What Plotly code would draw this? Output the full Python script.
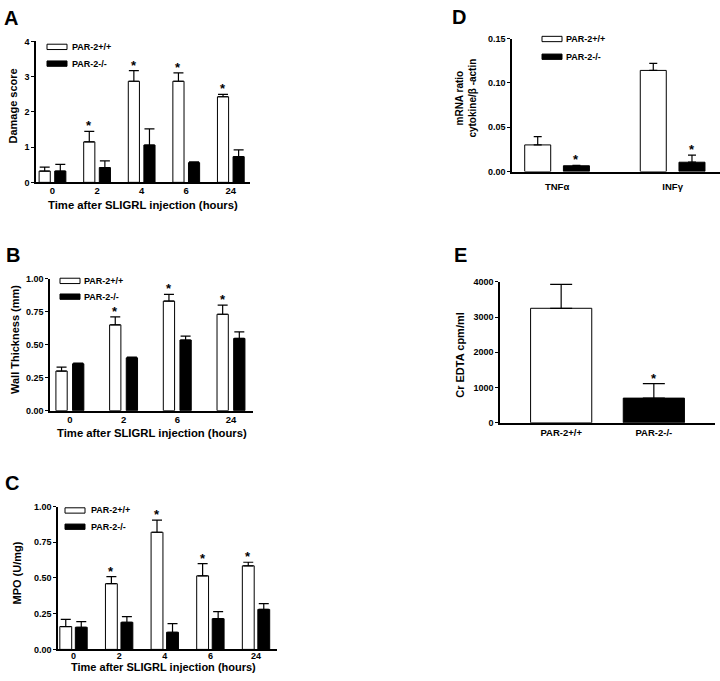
import plotly.graph_objects as go

W, H = 720, 681
FONT = "Liberation Sans, Arial, sans-serif"

# ---------------- data ----------------
a_cats = ["0", "2", "4", "6", "24"]
a_wt = [0.32, 1.15, 2.87, 2.87, 2.43]
a_wt_err = [0.11, 0.30, 0.30, 0.24, 0.07]
a_ko = [0.32, 0.42, 1.06, 0.56, 0.73]
a_ko_err = [0.19, 0.19, 0.46, 0.02, 0.19]
a_sig_wt = [False, True, True, True, True]

b_cats = ["0", "2", "6", "24"]
b_wt = [0.30, 0.65, 0.83, 0.73]
b_wt_err = [0.03, 0.06, 0.05, 0.07]
b_ko = [0.355, 0.40, 0.535, 0.547]
b_ko_err = [0.005, 0.005, 0.03, 0.05]
b_sig_wt = [False, True, True, True]

c_cats = ["0", "2", "4", "6", "24"]
c_wt = [0.16, 0.46, 0.82, 0.515, 0.585]
c_wt_err = [0.05, 0.05, 0.085, 0.085, 0.025]
c_ko = [0.155, 0.19, 0.12, 0.215, 0.28]
c_ko_err = [0.04, 0.04, 0.06, 0.05, 0.04]
c_sig_wt = [False, True, True, True, True]

d_cats = ["TNFα", "INFγ"]
d_wt = [0.030, 0.114]
d_wt_err = [0.0094, 0.008]
d_ko = [0.0065, 0.0105]
d_ko_err = [0.0005, 0.008]
d_sig_ko = [True, True]

e_cats = ["PAR-2+/+", "PAR-2-/-"]
e_vals = [3250, 700]
e_err = [680, 410]
e_sig = [False, True]

legend_labels = ["PAR-2+/+", "PAR-2-/-"]

# ---------------- figure ----------------
fig = go.Figure()
annotations = []
shapes = []


def px_x(p):
    return p / W


def px_y(p):
    return 1 - p / H


def setup_axes(n, xdom, ydom, xrange, yrange, tickvals, tickfmt, standoff, xtsize=9.5):
    xa = "xaxis" if n == 1 else f"xaxis{n}"
    ya = "yaxis" if n == 1 else f"yaxis{n}"
    yid = "y" if n == 1 else f"y{n}"
    xid = "x" if n == 1 else f"x{n}"
    fig.layout[xa] = dict(
        domain=[px_x(xdom[0]), px_x(xdom[1])], anchor=yid, type="category",
        range=xrange, showline=True, linecolor="black", linewidth=1.5,
        ticks="", ticklen=0, showgrid=False, zeroline=False,
        tickfont=dict(family=FONT, size=xtsize, color="black", weight="bold"),
        ticklabelstandoff=standoff, fixedrange=True,
    )
    fig.layout[ya] = dict(
        domain=[px_y(ydom[1]), px_y(ydom[0])], anchor=xid,
        range=yrange, showline=True, linecolor="black", linewidth=1.5,
        ticks="outside", ticklen=3, tickwidth=1.2, tickcolor="black",
        tickvals=tickvals, tickformat=tickfmt, showgrid=False, zeroline=False,
        tickfont=dict(family=FONT, size=9, color="black", weight="bold"),
        fixedrange=True,
    )
    return xid, yid


def star(xid, yid, idx, yval, xshift):
    annotations.append(dict(
        xref=xid, yref=yid, x=idx, y=yval, text="*", showarrow=False,
        yanchor="bottom", xshift=xshift, yshift=-4,
        font=dict(family=FONT, size=13, color="black", weight="bold"),
    ))


def grouped_panel(n, cats, wt, wt_err, ko, ko_err, sig_wt, sig_ko,
                  xdom, ydom, xrange, yrange, tickvals, tickfmt,
                  bw, gap, capw, standoff, xtsize=9.5):
    xid, yid = setup_axes(n, xdom, ydom, xrange, yrange, tickvals, tickfmt,
                          standoff, xtsize)
    ppc = (xdom[1] - xdom[0]) / (xrange[1] - xrange[0])
    specs = [
        (wt, wt_err, "white", -gap / 2 - bw, sig_wt),
        (ko, ko_err, "black", gap / 2, sig_ko),
    ]
    for vals, errs, col, off, sig in specs:
        fig.add_trace(go.Bar(
            x=cats, y=vals, xaxis=xid, yaxis=yid, width=bw, offset=off,
            marker=dict(color=col, line=dict(color="black", width=1)),
            error_y=dict(type="data", symmetric=False, array=errs,
                         arrayminus=[0] * len(errs), color="black",
                         thickness=1.2, width=capw),
            showlegend=False,
        ))
        if sig:
            for i, (v, e, s) in enumerate(zip(vals, errs, sig)):
                if s:
                    star(xid, yid, i, v + e, (off + bw / 2) * ppc)


def legend_block(x0, y_white, y_black, text_x, size=9):
    for (yc, col), lab in zip([(y_white, "white"), (y_black, "black")], legend_labels):
        shapes.append(dict(
            type="rect", xref="paper", yref="paper",
            x0=px_x(x0), x1=px_x(x0 + 20), y0=px_y(yc + 2.7), y1=px_y(yc - 2.7),
            fillcolor=col, line=dict(color="black", width=1),
        ))
        annotations.append(dict(
            xref="paper", yref="paper", x=px_x(text_x), y=px_y(yc), text=lab,
            showarrow=False, xanchor="left", yanchor="middle",
            font=dict(family=FONT, size=size, color="black", weight="bold"),
        ))


def text_px(x, y, txt, size, angle=0):
    annotations.append(dict(
        xref="paper", yref="paper", x=px_x(x), y=px_y(y), text=txt,
        showarrow=False, xanchor="center", yanchor="middle", textangle=angle,
        font=dict(family=FONT, size=size, color="black", weight="bold"),
    ))


# Panel A
grouped_panel(1, a_cats, a_wt, a_wt_err, a_ko, a_ko_err, a_sig_wt, None,
              (36, 250), (37, 180), [-0.37, 4.43], [0, 4], [0, 1, 2, 3, 4], "d",
              0.25, 0.1, 5, -2)
legend_block(47, 42.5, 59.5, 70)
text_px(11, 13.5, "A", 20)
text_px(13, 103, "Damage score", 11, -90)
text_px(143, 203, "Time after SLIGRL injection (hours)", 11.3)

# Panel B
grouped_panel(2, b_cats, b_wt, b_wt_err, b_ko, b_ko_err, b_sig_wt, None,
              (50, 253), (277.7, 411.7), [-0.37, 3.41], [0, 1.0],
              [0, 0.25, 0.5, 0.75, 1.0], ".2f", 0.21, 0.1, 5, -1)
legend_block(60, 280, 296, 82)
text_px(12.5, 254, "B", 20)
text_px(15, 340, "Wall Thickness (mm)", 11, -90)
text_px(152, 434, "Time after SLIGRL injection (hours)", 11.3)

# Panel C
grouped_panel(3, c_cats, c_wt, c_wt_err, c_ko, c_ko_err, c_sig_wt, None,
              (58, 277), (509, 654), [-0.34, 4.46], [0, 1.0],
              [0, 0.25, 0.5, 0.75, 1.0], ".2f", 0.26, 0.08, 5, -3, 9)
legend_block(65, 513, 529.5, 89)
text_px(11.5, 485, "C", 20)
text_px(17, 577, "MPO (U/mg)", 11, -90)
text_px(163, 672, "Time after SLIGRL injection (hours)", 11)

# Panel D
grouped_panel(4, d_cats, d_wt, d_wt_err, d_ko, d_ko_err, None, d_sig_ko,
              (512, 720), (34, 169), [-0.39, 1.41], [0, 0.15],
              [0, 0.05, 0.10, 0.15], ".2f", 0.225, 0.11, 4, 5)
legend_block(542, 34.5, 52.5, 564)
text_px(459.5, 12.5, "D", 20)
text_px(466, 95, "mRNA ratio<br>cytokine/β -actin", 10, -90)

# Panel E
xid, yid = setup_axes(5, (500, 715), (281, 424), [-0.66, 1.66], [0, 4000],
                      [0, 1000, 2000, 3000, 4000], "d", 0)
fig.add_trace(go.Bar(
    x=e_cats, y=e_vals, xaxis=xid, yaxis=yid, width=0.66,
    marker=dict(color=["white", "black"], line=dict(color="black", width=1)),
    error_y=dict(type="data", symmetric=False, array=e_err,
                 arrayminus=[0] * len(e_err), color="black",
                 thickness=1.2, width=11),
    showlegend=False,
))
for i, (v, e, s) in enumerate(zip(e_vals, e_err, e_sig)):
    if s:
        star(xid, yid, i, v + e, 0)
text_px(460.5, 254, "E", 20)
text_px(460, 355, "Cr EDTA cpm/ml", 11, -90)

fig.update_layout(
    width=W, height=H, margin=dict(l=0, r=0, t=0, b=0),
    paper_bgcolor="white", plot_bgcolor="white", barmode="overlay",
    showlegend=False, annotations=annotations, shapes=shapes,
    font=dict(family=FONT, color="black"),
)

fig.write_html(
    "out.html",
    config={"responsive": False, "displayModeBar": False},
    post_script="document.body.style.margin='0';document.body.style.overflow='hidden';",
)
